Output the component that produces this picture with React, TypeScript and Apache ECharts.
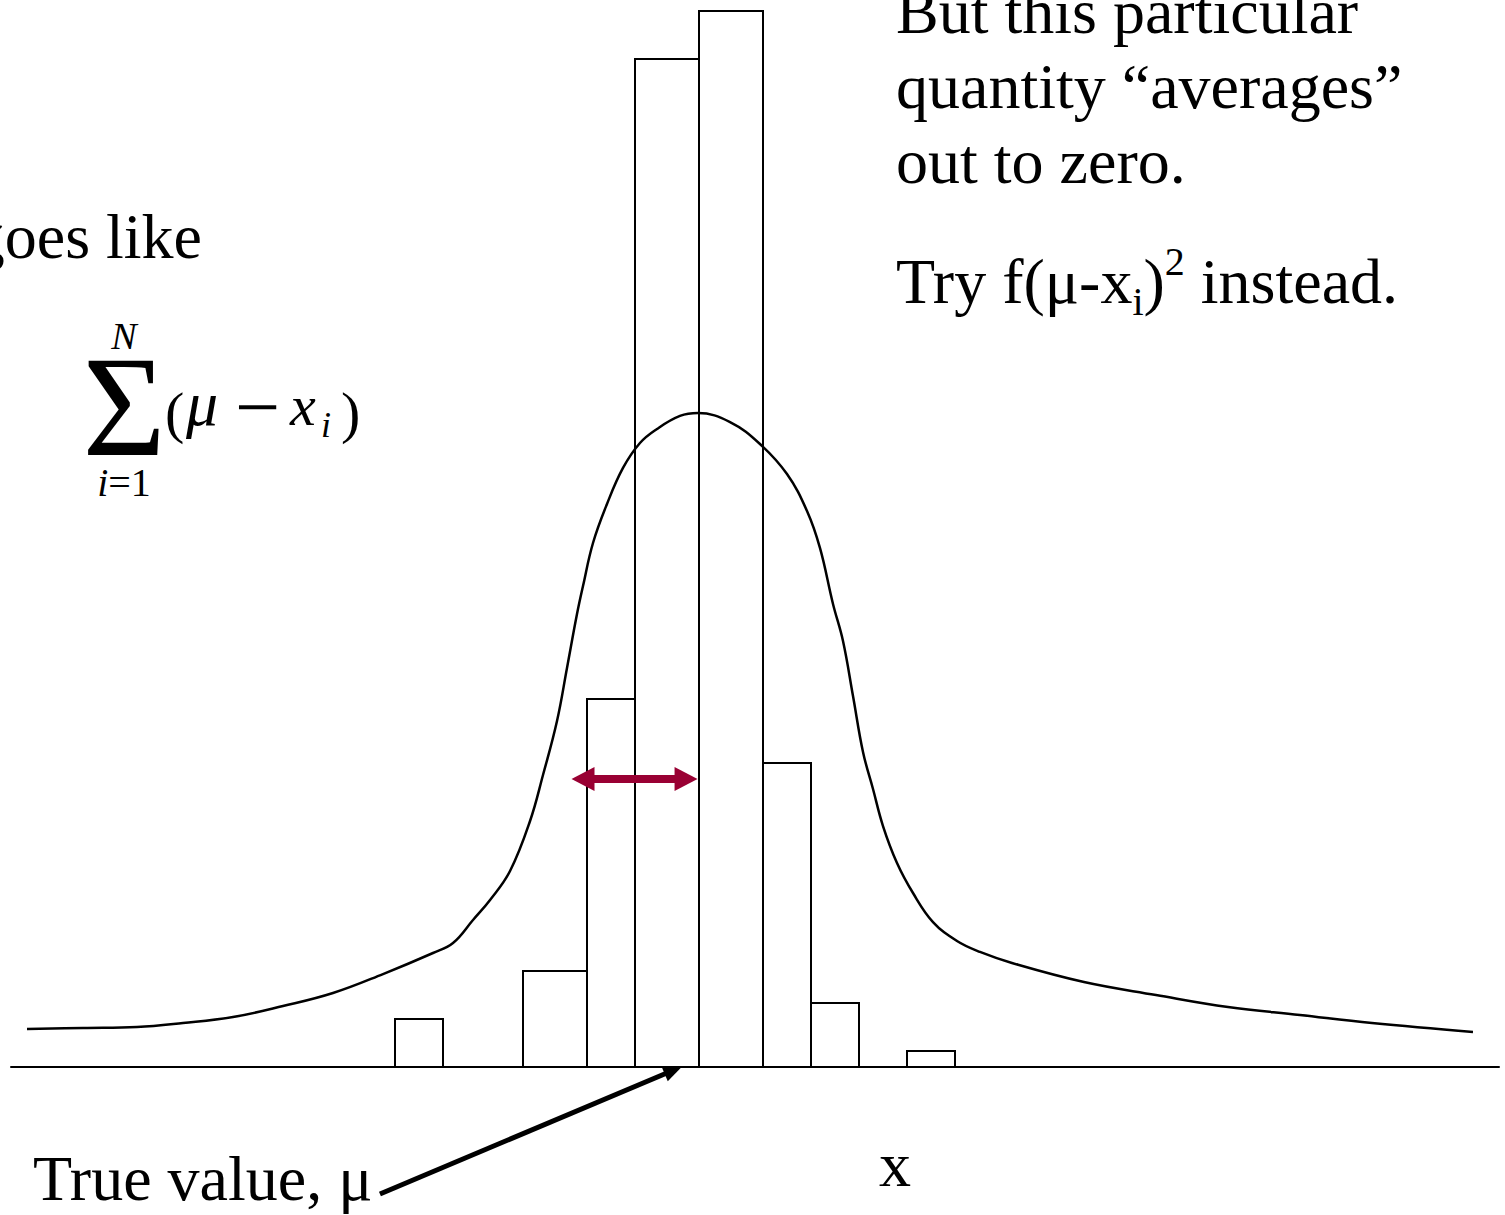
import React, { useEffect, useRef } from "react";
import * as echarts from "echarts";

// Histogram bins: left edge, right edge, count (x in units of the measurement axis)
const binLeft = [24, 32, 36, 39, 43, 47, 50, 56];
const binRight = [27, 36, 39, 43, 47, 50, 53, 59];
const binCounts = [3, 6, 23, 63, 66, 19, 4, 1];

// Parent distribution curve
const curveX = [
  1.0, 4.5, 7.875, 10.75, 13.875, 17.0, 20.125, 23.25, 26.375, 27.625, 28.875,
  29.94, 31.19, 32.44, 33.25, 34.125, 34.75, 35.375, 35.75, 36.375, 37.25,
  38.25, 39.31, 40.375, 41.81, 42.94, 44.94, 46.81, 48.5, 49.75, 50.56, 51.375,
  52.0, 52.625, 53.25, 53.875, 54.5, 55.375, 56.375, 57.625, 59.125, 60.56,
  62.56, 67.06, 71.56, 76.06, 80.56, 85.06, 91.375,
];
const curveY = [
  2.375, 2.44, 2.5, 2.75, 3.125, 3.81, 4.625, 5.81, 7.125, 7.75, 9.19, 10.44,
  12.25, 15.375, 18.25, 21.625, 24.94, 28.31, 30.06, 32.75, 35.19, 37.44, 39.0,
  39.875, 40.69, 40.875, 40.31, 38.94, 37.06, 34.75, 32.44, 28.94, 26.625,
  23.19, 19.69, 17.375, 15.06, 12.75, 10.875, 9.06, 7.875, 7.19, 6.5, 5.31, 4.5,
  3.75, 3.25, 2.75, 2.19,
];

// Deviation arrow (mu - x_i) and the pointer to the true value
const deviationFrom = [35.75, 18];
const deviationTo = [42.19, 18];
const pointerFrom = [23.06, -7.94];
const pointerTo = [41.4, -0.2];

const SERIF = '"Liberation Serif", "Times New Roman", serif';

function txt(x: number, y: number, text: string, size: number, extra: any = {}) {
  return {
    type: "text",
    x,
    y,
    silent: true,
    style: {
      text,
      fill: "#000",
      font: `${extra.italic ? "italic " : ""}${size}px ${SERIF}`,
      align: extra.align || "left",
      verticalAlign: extra.verticalAlign || "middle",
      lineHeight: extra.lineHeight,
      rich: extra.rich,
    },
  };
}

export default function App() {
  const ref = useRef<HTMLDivElement>(null);

  useEffect(() => {
    if (!ref.current) return;
    const chart = echarts.init(ref.current, null, { renderer: "svg" });

    const bins = binLeft.map((l, i) => [l, binRight[i], binCounts[i]]);
    const curve = curveX.map((x, i) => [x, curveY[i]]);

    const option: any = {
      animation: false,
      backgroundColor: "#fff",
      grid: { left: 11, top: 11, width: 1488, height: 1200 },
      xAxis: {
        type: "value",
        min: 0,
        max: 93,
        axisLine: { show: true, onZero: true, lineStyle: { color: "#000", width: 2 } },
        axisTick: { show: false },
        axisLabel: { show: false },
        splitLine: { show: false },
      },
      yAxis: {
        type: "value",
        min: -9,
        max: 66,
        show: false,
        splitLine: { show: false },
      },
      series: [
        {
          type: "custom",
          z: 2,
          data: bins,
          encode: { x: [0, 1], y: 2 },
          renderItem: (params: any, api: any) => {
            const p0 = api.coord([api.value(0), api.value(2)]);
            const p1 = api.coord([api.value(1), 0]);
            return {
              type: "rect",
              shape: { x: p0[0], y: p0[1], width: p1[0] - p0[0], height: p1[1] - p0[1] },
              style: { fill: "none", stroke: "#000", lineWidth: 2 },
            };
          },
        },
        {
          type: "line",
          z: 3,
          data: curve,
          smooth: 0.4,
          showSymbol: false,
          symbol: "none",
          lineStyle: { color: "#000", width: 2.5 },
          markLine: {
            silent: true,
            animation: false,
            symbol: ["none", "none"],
            label: { show: false },
            data: [
              [
                {
                  coord: deviationFrom,
                  symbol: "triangle",
                  symbolSize: [24, 23],
                  lineStyle: { color: "#990033", width: 8, type: "solid" },
                },
                { coord: deviationTo, symbol: "triangle", symbolSize: [24, 23] },
              ],
              [
                {
                  coord: pointerFrom,
                  symbol: "none",
                  lineStyle: { color: "#000", width: 5, type: "solid" },
                },
                { coord: pointerTo, symbol: "triangle", symbolSize: [16, 19] },
              ],
            ],
          },
        },
      ],
      graphic: [
        txt(896, -26, "But this particular\nquantity \u201caverages\u201d\nout to zero.", 64, {
          verticalAlign: "top",
          lineHeight: 75,
        }),
        {
          type: "text",
          x: 896,
          y: 241,
          silent: true,
          style: {
            text: "Try f(\u03bc-x{sub|i}){sup|2} instead.",
            fill: "#000",
            font: `64px ${SERIF}`,
            lineHeight: 80,
            verticalAlign: "top",
            rich: {
              sub: { fontFamily: SERIF, fontSize: 40, lineHeight: 40, verticalAlign: "bottom" },
              sup: { fontFamily: SERIF, fontSize: 40, lineHeight: 46, verticalAlign: "top" },
            },
          },
        },
        txt(202, 236, "goes like", 64, { align: "right" }),
        // summation sign with its limits, stacked in one block
        {
          type: "text",
          x: 124,
          y: 314,
          silent: true,
          style: {
            text: "{n|N}\n{s|\u03a3}\n{it|i}{r|=1}",
            fill: "#000",
            align: "center",
            verticalAlign: "top",
            font: `40px ${SERIF}`,
            rich: {
              n: { fontFamily: SERIF, fontSize: 38, fontStyle: "italic", lineHeight: 43, align: "center" },
              s: { fontFamily: SERIF, fontSize: 143, lineHeight: 100, align: "center" },
              it: { fontFamily: SERIF, fontSize: 40, fontStyle: "italic", lineHeight: 50 },
              r: { fontFamily: SERIF, fontSize: 40, lineHeight: 50 },
            },
          },
        },
        txt(165, 412, "(", 58),
        txt(186, 403, "\u03bc", 64, { italic: true }),
        txt(235, 407, "\u2212", 80),
        txt(290, 405, "x", 58, { italic: true }),
        txt(321, 425, "i", 36, { italic: true }),
        txt(341, 412, ")", 58),
        txt(33, 1178, "True value, \u03bc", 64),
        txt(879, 1164, "x", 64),
      ],
    };

    chart.setOption(option);
    return () => chart.dispose();
  }, []);

  return (
    <div
      ref={ref}
      style={{ position: "absolute", left: 0, top: 0, width: 1505, height: 1215, background: "#fff" }}
    />
  );
}
